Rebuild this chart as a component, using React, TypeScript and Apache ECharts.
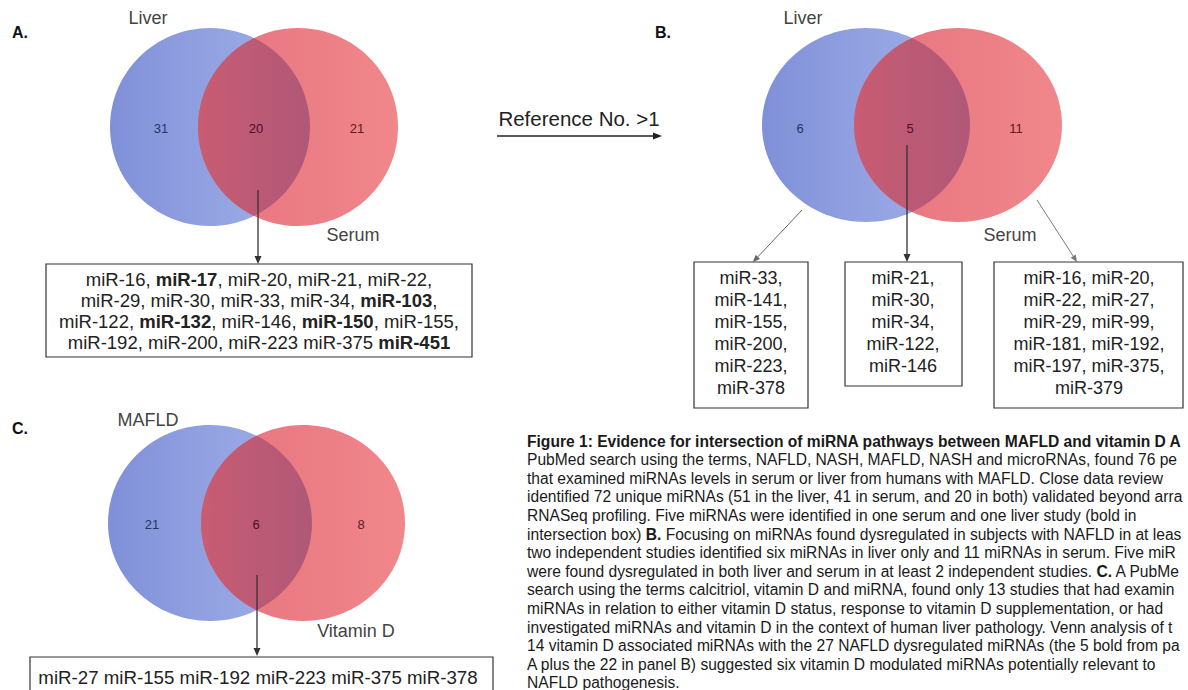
import React, { useEffect, useRef } from 'react';
import * as echarts from 'echarts';

// ---------- data ----------
const panelASets = ['Liver', 'Serum'];
const panelACounts = ['31', '20', '21'];
const panelBSets = ['Liver', 'Serum'];
const panelBCounts = ['6', '5', '11'];
const panelCSets = ['MAFLD', 'Vitamin D'];
const panelCCounts = ['21', '6', '8'];
const arrowLabel = 'Reference No. >1';

const boldMiRs = ['miR-17', 'miR-103', 'miR-132', 'miR-150', 'miR-451'];
const panelABox = [
  'miR-16, miR-17, miR-20, miR-21, miR-22,',
  'miR-29, miR-30, miR-33, miR-34, miR-103,',
  'miR-122, miR-132, miR-146, miR-150, miR-155,',
  'miR-192, miR-200, miR-223 miR-375 miR-451',
];
const panelBLiverBox = ['miR-33,', 'miR-141,', 'miR-155,', 'miR-200,', 'miR-223,', 'miR-378'];
const panelBBothBox = ['miR-21,', 'miR-30,', 'miR-34,', 'miR-122,', 'miR-146'];
const panelBSerumBox = ['miR-16, miR-20,', 'miR-22, miR-27,', 'miR-29, miR-99,', 'miR-181, miR-192,', 'miR-197, miR-375,', 'miR-379'];
const panelCBox = ['miR-27 miR-155 miR-192 miR-223 miR-375 miR-378'];

// caption, as far as it is visible in the figure (cropped at the right edge)
const captionLines = [
  '{b|Figure 1: Evidence for intersection of miRNA pathways between MAFLD and vitamin D A}',
  'PubMed search using the terms, NAFLD, NASH, MAFLD, NASH and microRNAs, found 76 pe',
  'that examined miRNAs levels in serum or liver from humans with MAFLD. Close data review',
  'identified 72 unique miRNAs (51 in the liver, 41 in serum, and 20 in both) validated beyond arra',
  'RNASeq profiling. Five miRNAs were identified in one serum and one liver study (bold in',
  'intersection box) {b|B.} Focusing on miRNAs found dysregulated in subjects with NAFLD in at leas',
  'two independent studies identified six miRNAs in liver only and 11 miRNAs in serum. Five miR',
  'were found dysregulated in both liver and serum in at least 2 independent studies. {b|C.} A PubMe',
  'search using the terms calcitriol, vitamin D and miRNA, found only 13 studies that had examin',
  'miRNAs in relation to either vitamin D status, response to vitamin D supplementation, or had',
  'investigated miRNAs and vitamin D in the context of human liver pathology. Venn analysis of t',
  '14 vitamin D associated miRNAs with the 27 NAFLD dysregulated miRNAs (the 5 bold from pa',
  'A plus the 22 in panel B) suggested six vitamin D modulated miRNAs potentially relevant to',
  'NAFLD pathogenesis.',
];

// ---------- drawing helpers ----------
const FF = '"Liberation Sans", Arial, Helvetica, sans-serif';
let shapeId = 0;

function txt(text: string, x: number, y: number, o: any = {}) {
  const size = o.size ?? 14;
  const align = o.align ?? 'center';
  return {
    type: 'text',
    x,
    y,
    silent: true,
    style: {
      text,
      fontSize: size,
      fontFamily: FF,
      fontWeight: o.weight ?? 'normal',
      fill: o.fill ?? '#222',
      align,
      textAlign: align,
      verticalAlign: 'middle',
      textVerticalAlign: 'middle',
      rich: {
        b: { fontSize: size, fontFamily: FF, fontWeight: 'bold', fill: o.fill ?? '#222' },
      },
    },
  };
}

function boldify(line: string) {
  return line.replace(/miR-\d+/g, (m) => (boldMiRs.includes(m) ? `{b|${m}}` : m));
}

function arrow(x1: number, y1: number, x2: number, y2: number, color = '#333', w = 1.3, hl = 8, hw = 3.5) {
  const dx = x2 - x1;
  const dy = y2 - y1;
  const len = Math.sqrt(dx * dx + dy * dy);
  const ux = dx / len;
  const uy = dy / len;
  const bx = x2 - ux * hl;
  const by = y2 - uy * hl;
  return [
    { type: 'line', silent: true, shape: { x1, y1, x2: bx, y2: by }, style: { stroke: color, lineWidth: w } },
    {
      type: 'polygon',
      silent: true,
      shape: { points: [[x2, y2], [bx - uy * hw, by + ux * hw], [bx + uy * hw, by - ux * hw]] },
      style: { fill: color },
    },
  ];
}

function box(x: number, y: number, w: number, h: number, lines: string[], cx: number, y0: number, lh: number, size: number) {
  const els: any[] = [
    { type: 'rect', silent: true, shape: { x, y, width: w, height: h }, style: { fill: '#fff', stroke: '#333', lineWidth: 1.2 } },
  ];
  lines.forEach((l, i) => els.push(txt(boldify(l), cx, y0 + i * lh, { size })));
  return els;
}

function venn(cx1: number, cx2: number, cy: number, rx: number, ry: number, counts: string[], sets: string[], lab1: number[], lab2: number[], numY: number, numX: number[]) {
  const xm = (cx1 + cx2) / 2;
  const half = (cx2 - cx1) / 2;
  const dy = ry * Math.sqrt(1 - (half * half) / (rx * rx));
  const d = `M ${xm} ${cy - dy} A ${rx} ${ry} 0 0 1 ${xm} ${cy + dy} A ${rx} ${ry} 0 0 1 ${xm} ${cy - dy} Z`;
  const name = 'lens' + shapeId++;
  echarts.graphic.registerShape(name, echarts.graphic.extendPath(d, {}) as any);
  return [
    {
      type: 'ellipse',
      silent: true,
      shape: { cx: cx1, cy, rx, ry },
      style: {
        fill: { type: 'linear', x: 0, y: 0, x2: 1, y2: 0, colorStops: [{ offset: 0, color: '#8090d8' }, { offset: 1, color: '#a3b2ea' }] },
      },
    },
    {
      type: 'ellipse',
      silent: true,
      shape: { cx: cx2, cy, rx, ry },
      style: {
        fill: { type: 'linear', x: 0, y: 0, x2: 1, y2: 0, colorStops: [{ offset: 0, color: '#e7727e' }, { offset: 1, color: '#f0878b' }] },
      },
    },
    {
      type: name,
      silent: true,
      style: {
        fill: { type: 'linear', x: 0, y: 0, x2: 1, y2: 0, colorStops: [{ offset: 0, color: '#c85c72' }, { offset: 1, color: '#b05878' }] },
      },
    },
    txt(sets[0], lab1[0], lab1[1], { size: 18, fill: '#444' }),
    txt(sets[1], lab2[0], lab2[1], { size: 18, fill: '#444' }),
    txt(counts[0], numX[0], numY, { size: 13, fill: '#26346a' }),
    txt(counts[1], numX[1], numY, { size: 13, fill: '#4a1028' }),
    txt(counts[2], numX[2], numY, { size: 13, fill: '#5a1c1c' }),
  ];
}

export default function App() {
  const ref = useRef<HTMLDivElement>(null);
  useEffect(() => {
    if (!ref.current) return;
    const chart = echarts.init(ref.current, null, { renderer: 'svg' });
    const els: any[] = [];

    // Panel A
    els.push(txt('A.', 12, 32, { size: 16, weight: 'bold', align: 'left', fill: '#111' }));
    els.push(...venn(210, 298, 127, 100, 99, panelACounts, panelASets, [148, 18], [353, 235], 128, [161, 256, 357]));
    els.push(...arrow(258, 190, 258, 264));
    els.push(...box(46, 264, 426, 93, panelABox, 259, 279, 21, 18.5));

    // Middle arrow
    els.push(...arrow(497, 136, 662, 136, '#222', 1.3, 9, 3.5));
    els.push(txt(arrowLabel, 579, 118, { size: 20.5, fill: '#222' }));

    // Panel B
    els.push(txt('B.', 655, 32, { size: 16, weight: 'bold', align: 'left', fill: '#111' }));
    els.push(...venn(866, 958, 125, 104, 97, panelBCounts, panelBSets, [803, 18], [1010, 235], 128, [800, 910, 1016]));
    els.push(...arrow(802, 210, 753, 262, '#666', 1, 7, 3));
    els.push(...arrow(907, 145, 907, 262, '#333', 1.3, 8, 3.5));
    els.push(...arrow(1037, 200, 1077, 262, '#777', 1, 7, 3));
    els.push(...box(694, 262, 114, 146, panelBLiverBox, 751, 278, 22, 18));
    els.push(...box(845, 262, 117, 124, panelBBothBox, 903, 278, 22, 18));
    els.push(...box(994, 262, 189, 146, panelBSerumBox, 1089, 278, 22, 18));

    // Panel C
    els.push(txt('C.', 12, 428, { size: 16, weight: 'bold', align: 'left', fill: '#111' }));
    els.push(...venn(210, 303, 523, 102, 98, panelCCounts, panelCSets, [148, 420], [356, 631], 524, [152, 256, 361]));
    els.push(...arrow(257, 575, 257, 656));
    els.push(...box(30, 657, 463, 42, panelCBox, 258, 677, 22, 18.7));

    // Caption
    captionLines.forEach((l, i) => els.push(txt(l, 527, 441 + i * 18.6, { size: 15.6, align: 'left', fill: '#1a1a1a' })));

    chart.setOption({ animation: false, backgroundColor: '#ffffff', graphic: { elements: els } });
    return () => chart.dispose();
  }, []);
  return <div ref={ref} style={{ position: 'fixed', left: 0, top: 0, width: 1188, height: 690 }} />;
}
